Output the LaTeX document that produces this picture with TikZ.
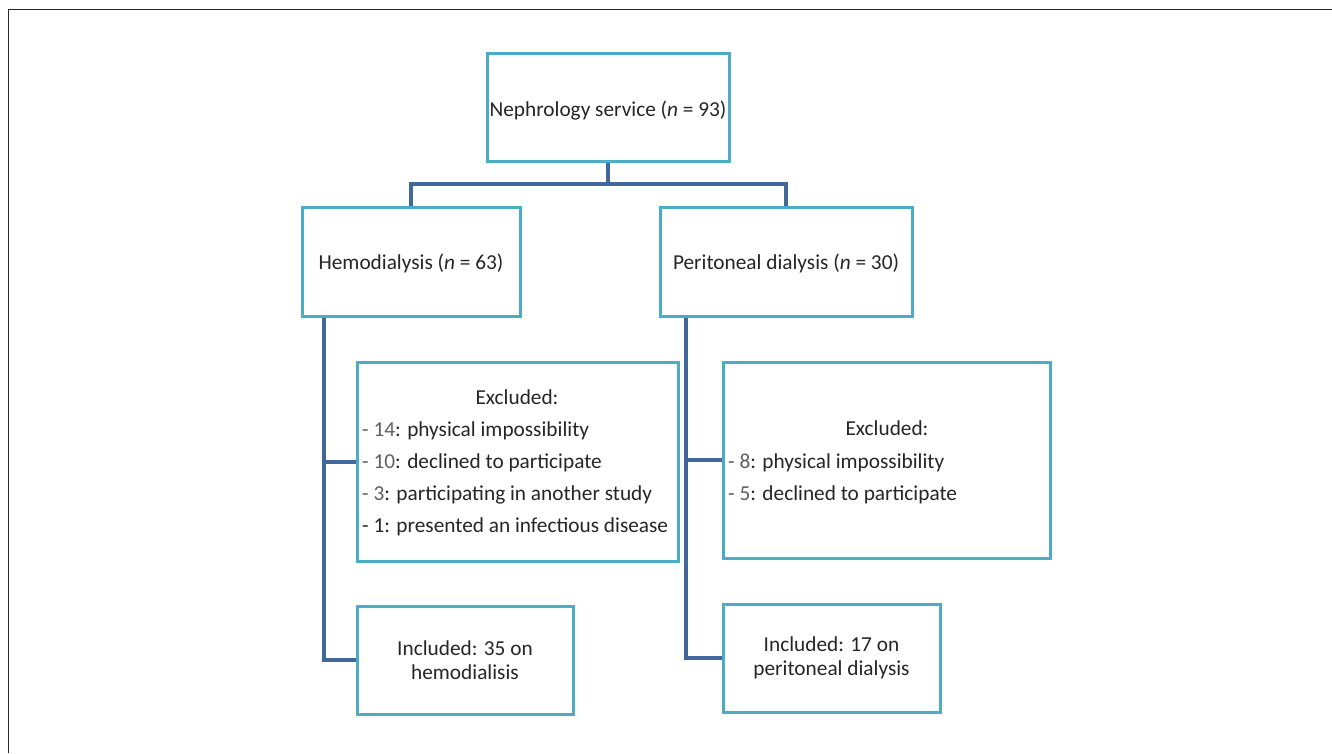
\documentclass[tikz,border=0pt]{standalone}
\usepackage{fontspec}
\setmainfont{Carlito}
\definecolor{boxc}{RGB}{75,172,198}
\definecolor{linec}{RGB}{64,104,154}
\definecolor{txt}{RGB}{38,38,38}
\definecolor{numc}{RGB}{95,95,95}
\begin{document}
\begin{tikzpicture}[x=1pt,y=-1pt,
  box/.style={draw=boxc,line width=3pt,fill=white,inner sep=0pt},
  conn/.style={draw=linec,line width=4pt},
  txtn/.style={inner sep=0pt,text=txt,font=\fontsize{21.3}{24}\selectfont,align=center},
  lbl/.style={inner sep=0pt,text=txt,font=\fontsize{21.3}{24}\selectfont,text height=14pt,text depth=4.5pt},
  frame/.style={draw=black!85,line width=1.6pt}]
\useasboundingbox (0,0) rectangle (1332,753);
\coordinate (fc) at (8.5,9.5);
\coordinate (fr) at (1332,9.5);
\coordinate (fb) at (8.5,753);
\draw[frame] (fb) -- (fc) -- (fr);

\node[box,minimum width=242pt,minimum height=108pt] (top) at (608,107) {};
\node[box,minimum width=218pt,minimum height=109pt] (hd) at (411,261.5) {};
\node[box,minimum width=252pt,minimum height=109pt] (pd) at (786,261.5) {};
\node[box,minimum width=321pt,minimum height=199pt] (exhd) at (517.5,461.5) {};
\node[box,minimum width=216pt,minimum height=108pt] (inhd) at (465,660) {};
\node[box,minimum width=327pt,minimum height=196pt] (expd) at (886.5,460) {};
\node[box,minimum width=217pt,minimum height=108pt] (inpd) at (831.5,658) {};

\node[txtn] (topt) at ([yshift=-3.5pt]top.center) {Nephrology service (\textit{n} = 93)};
\node[txtn] (hdt) at ([yshift=-1.5pt]hd.center) {Hemodialysis (\textit{n} = 63)};
\node[txtn] (pdt) at ([yshift=-1.5pt]pd.center) {Peritoneal dialysis (\textit{n} = 30)};
\node[txtn] (inhdt) at ([yshift=0pt]inhd.center) {Included: 35 on\\hemodialisis};
\node[txtn] (inpdt) at ([yshift=0pt]inpd.center) {Included: 17 on\\peritoneal dialysis};

\node[lbl] (exhdt) at (517,400) {Excluded:};
\node[lbl,anchor=west] (hd1) at (362,432) {\textcolor{numc}{- 14}: physical impossibility};
\node[lbl,anchor=west] (hd2) at (362,464) {\textcolor{numc}{- 10}: declined to participate};
\node[lbl,anchor=west] (hd3) at (362,496) {\textcolor{numc}{- 3}: participating in another study};
\node[lbl,anchor=west] (hd4) at (362,528) {- 1: presented an infectious disease};

\node[lbl] (expdt) at (887,431) {Excluded:};
\node[lbl,anchor=west] (pd1) at (728,464) {\textcolor{numc}{- 8}: physical impossibility};
\node[lbl,anchor=west] (pd2) at (728,496) {\textcolor{numc}{- 5}: declined to participate};

\coordinate (j) at (608,184);
\draw[conn] (top.south) -- (j);
\draw[conn] (hd.north) |- (j) -| (pd.north);
\coordinate (hs) at ([xshift=23pt]hd.south west);
\coordinate (ps) at ([xshift=27pt]pd.south west);
\draw[conn] (hs) |- (inhd.west);
\draw[conn] (hs |- exhd.west) -- (exhd.west);
\draw[conn] (ps) |- (inpd.west);
\draw[conn] (ps |- expd.west) -- (expd.west);
\end{tikzpicture}
\end{document}
